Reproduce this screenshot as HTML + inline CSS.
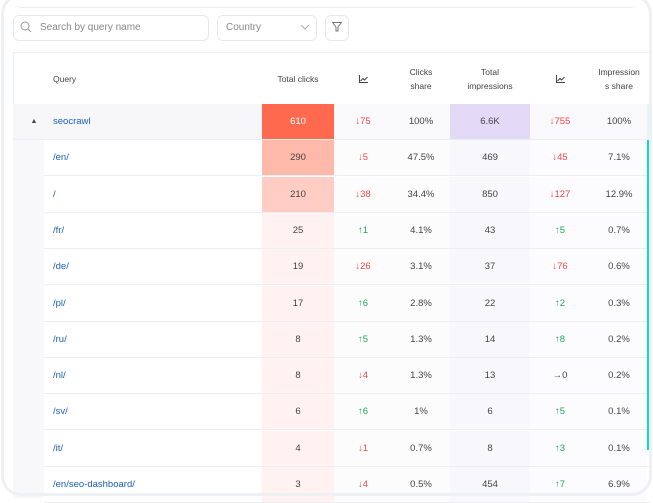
<!DOCTYPE html>
<html><head><style>
*{box-sizing:border-box;margin:0;padding:0}
body{width:653px;height:498px;background:#fff;font-family:"Liberation Sans",sans-serif;position:relative;overflow:hidden;font-size:9px;color:#333}
.frame{position:absolute;left:1px;top:-6px;width:651px;height:502px;border:3px solid #eef0f3;border-radius:20px;z-index:5;pointer-events:none}
.topline{position:absolute;left:14px;top:0;width:625px;height:8px;border-bottom:1px solid #eceef1;border-radius:0 0 8px 8px}
.box{position:absolute;border:1px solid #e6e8ec;border-radius:6px;background:#fff;color:#888;font-size:10px}
.ab{position:absolute}
.row{position:absolute;left:13px;width:638px;height:36px;border-bottom:1px solid #eceef2}
.c{position:absolute;top:0;height:100%;display:flex;align-items:center;justify-content:center;font-size:9.5px;color:#444}
.q{color:#1a5fb4;justify-content:flex-start}
.dn{color:#f04848}.up{color:#1aaa55}
.h{color:#444;font-size:8.5px;text-align:center;line-height:14px}
</style></head><body>
<div class="frame"></div>
<div class="topline"></div>
<div class="box" style="left:13px;top:15px;width:196px;height:26px;padding:6px 0 0 26px">Search by query name</div>
<svg class="ab" style="left:20px;top:21px" width="12" height="12"><circle cx="5" cy="5" r="4" fill="none" stroke="#999" stroke-width="1"/><line x1="8" y1="8" x2="11" y2="11" stroke="#999"/></svg>
<div class="box" style="left:217px;top:15px;width:100px;height:26px;padding:6px 0 0 8px">Country</div>
<svg class="ab" style="left:301px;top:25px" width="8" height="5"><polyline points="0,0 4,4 8,0" fill="none" stroke="#aaa"/></svg>
<div class="box" style="left:325px;top:15px;width:24px;height:26px"></div>
<svg class="ab" style="left:332px;top:22px" width="10" height="11"><path d="M0.5 0.5H9.5L6 5V9H4V5Z" fill="none" stroke="#777"/></svg>
<div class="ab" style="left:13px;top:52px;width:638px;height:1px;background:#eceef2"></div>
<div class="ab" style="left:13px;top:52px;width:1px;height:446px;background:#eceef2"></div>
<div class="row" style="top:53px;height:51px;border:none">
<div class="c h" style="left:40px;justify-content:flex-start">Query</div>
<div class="c h" style="left:249px;width:72px">Total clicks</div>
<div class="c h" style="left:321px;width:58px"><svg width="9" height="8"><path d="M0.5 0V7.5H9M1.5 6L4 3.5L5.5 5L8.5 2" fill="none" stroke="#444"/></svg></div>
<div class="c h" style="left:379px;width:58px">Clicks<br>share</div>
<div class="c h" style="left:437px;width:80px">Total<br>impressions</div>
<div class="c h" style="left:517px;width:60px"><svg width="9" height="8"><path d="M0.5 0V7.5H9M1.5 6L4 3.5L5.5 5L8.5 2" fill="none" stroke="#444"/></svg></div>
<div class="c h" style="left:577px;width:58px">Impression<br>s share</div>
</div>
<div class="ab" style="left:13px;top:104px;width:31px;height:394px;background:#f8f8fa"></div>
<div id="rows"></div>
<div class="ab" style="left:647px;top:140px;width:3px;height:310px;background:#12d8c8;z-index:3"></div>
<div class="ab" style="left:647px;top:104px;width:3px;height:36px;background:#e0f7f5;z-index:3"></div>
<script>
var d=[["seocrawl","610","d75","100%","6.6K","d755","100%"],
["/en/","290","d5","47.5%","469","d45","7.1%"],
["/","210","d38","34.4%","850","d127","12.9%"],
["/fr/","25","u1","4.1%","43","u5","0.7%"],
["/de/","19","d26","3.1%","37","d76","0.6%"],
["/pl/","17","u6","2.8%","22","u2","0.3%"],
["/ru/","8","u5","1.3%","14","u8","0.2%"],
["/nl/","8","d4","1.3%","13","n0","0.2%"],
["/sv/","6","u6","1%","6","u5","0.1%"],
["/it/","4","d1","0.7%","8","u3","0.1%"],
["/en/seo-dashboard/","3","d4","0.5%","454","u7","6.9%"]];
var cb=["#ff6a4e","#ffb9aa","#ffcdc3"];var h="";
function dl(v){var t=v[0],n=v.slice(1);if(t=="d")return '<span class="dn">↓'+n+'</span>';if(t=="u")return '<span class="up">↑'+n+'</span>';return '<span>→'+n+'</span>';}
d.forEach(function(r,i){var top=104+i*36.3;var root=i==0;
var bg=root?"#f7f7f9":"#fff";
h+='<div class="row" style="top:'+top+'px;'+(root?'left:13px;width:638px;':'left:44px;width:607px;')+'background:'+bg+'">';
var o=root?0:31;
if(root)h+='<div class="c" style="left:16px;width:10px;font-size:7px">▲</div>';
h+='<div class="c q" style="left:'+(40-o)+'px;width:200px">'+r[0]+'</div>';
h+='<div class="c" style="left:'+(249-o)+'px;width:72px;background:'+(cb[i]||"#fff2f0")+';color:'+(root?"#fff":"#444")+'">'+r[1]+'</div>';
h+='<div class="c" style="left:'+(321-o)+'px;width:116px;background:'+(root?"#f9f8fb":"#fdfcfd")+'"></div>';
h+='<div class="c" style="left:'+(321-o)+'px;width:58px">'+dl(r[2])+'</div>';
h+='<div class="c" style="left:'+(379-o)+'px;width:58px">'+r[3]+'</div>';
h+='<div class="c" style="left:'+(437-o)+'px;width:80px;background:'+(root?"#e4daf7":"#f8f7fc")+'">'+r[4]+'</div>';
h+='<div class="c" style="left:'+(517-o)+'px;width:117px;background:'+(root?"#f9f8fb":"#fcfbfd")+'"></div>';
h+='<div class="c" style="left:'+(517-o)+'px;width:60px">'+dl(r[5])+'</div>';
h+='<div class="c" style="left:'+(577-o)+'px;width:58px">'+r[6]+'</div>';
h+='</div>';});
document.getElementById("rows").innerHTML=h;
</script>
</body></html>
